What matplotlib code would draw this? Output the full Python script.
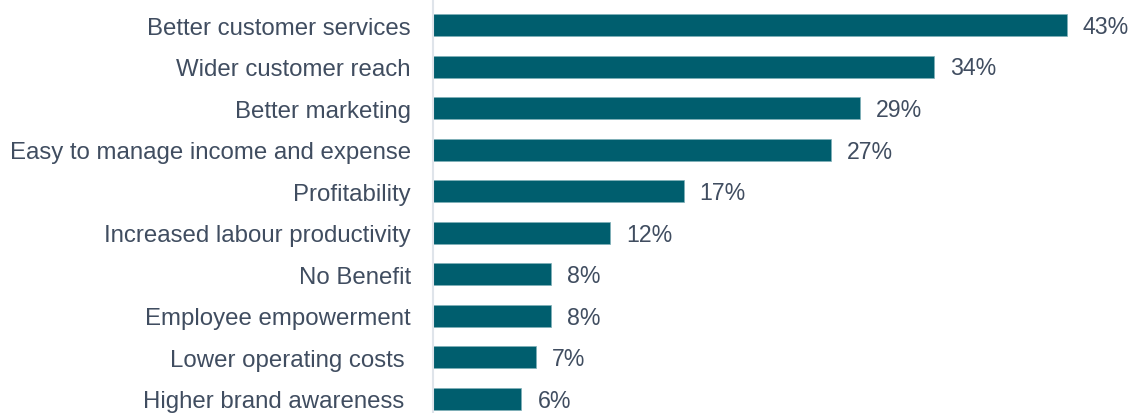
import matplotlib.pyplot as plt

categories = [
    "Better customer services",
    "Wider customer reach",
    "Better marketing",
    "Easy to manage income and expense",
    "Profitability",
    "Increased labour productivity",
    "No Benefit",
    "Employee empowerment",
    "Lower operating costs ",
    "Higher brand awareness ",
]
values = [43, 34, 29, 27, 17, 12, 8, 8, 7, 6]

bar_color = "#005e6e"
text_color = "#404d60"

plt.rcParams["font.family"] = ["Liberation Sans", "DejaVu Sans"]

fig = plt.figure(figsize=(11.36, 4.14), dpi=100)
ax = fig.add_axes([433 / 1136, 0, 1 - 433 / 1136, 1])

y = range(len(categories))
ax.barh(y, values, height=0.53, color=bar_color, edgecolor="#7fb0b8", linewidth=0.5)

for i, v in enumerate(values):
    ax.annotate(f"{v}%", (v, i), xytext=(11.5, -1), textcoords="offset points",
                va="center", ha="left", fontsize=16.7, color=text_color)

ax.set_xlim(0, 47.7)
ax.set_ylim(9 + 0.337, -0.626)
ax.set_yticks(list(y))
ax.set_yticklabels(categories, fontsize=17.3, color=text_color)
ax.tick_params(axis="y", length=0, pad=16)
ax.set_xticks([])

for side in ["top", "right", "bottom"]:
    ax.spines[side].set_visible(False)
ax.spines["left"].set_color("#dfe4ea")
ax.spines["left"].set_linewidth(1.5)

fig.savefig("out.png", dpi=100)
